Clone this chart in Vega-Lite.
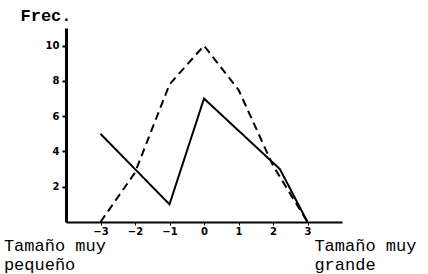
{
  "$schema": "https://vega.github.io/schema/vega-lite/v6.json",
  "width": 276,
  "height": 194,
  "autosize": "none",
  "padding": {"left": 66, "top": 28, "right": 86, "bottom": 52},
  "background": "white",
  "config": {"view": {"stroke": null}},
  "datasets": {
    "series": [
      {"x": -3, "frec": 5, "serie": "A"},
      {"x": -2, "frec": 3, "serie": "A"},
      {"x": -1, "frec": 1, "serie": "A"},
      {"x": 0, "frec": 7, "serie": "A"},
      {"x": 2.2, "frec": 3, "serie": "A"},
      {"x": 3, "frec": 0, "serie": "A"},
      {"x": -3, "frec": 0, "serie": "B"},
      {"x": -2, "frec": 2.8, "serie": "B"},
      {"x": -1, "frec": 7.8, "serie": "B"},
      {"x": 0, "frec": 10, "serie": "B"},
      {"x": 1, "frec": 7.5, "serie": "B"},
      {"x": 2, "frec": 3.2, "serie": "B"},
      {"x": 3, "frec": 0, "serie": "B"}
    ],
    "labels": [
      {"x": -5.8, "y": -1.65, "t": "Tamaño muy"},
      {"x": -5.8, "y": -2.7, "t": "pequeño"},
      {"x": 3.2, "y": -1.65, "t": "Tamaño muy"},
      {"x": 3.2, "y": -2.7, "t": "grande"}
    ]
  },
  "layer": [
    {
      "data": {"name": "series"},
      "mark": {"type": "line", "color": "black", "strokeWidth": 2},
      "encoding": {
        "x": {
          "field": "x", "type": "quantitative",
          "scale": {"domain": [-4, 4], "nice": false},
          "axis": {
            "values": [-3, -2, -1, 0, 1, 2, 3], "format": "d", "title": null, "grid": false,
            "domainColor": "black", "domainWidth": 2, "tickColor": "black", "tickSize": 3,
            "labelFont": "DejaVu Sans", "labelFontWeight": "bold", "labelFontSize": 10,
            "labelColor": "black", "labelPadding": 1
          }
        },
        "y": {
          "field": "frec", "type": "quantitative",
          "scale": {"domain": [0, 11], "nice": false},
          "axis": {
            "values": [2, 4, 6, 8, 10], "title": "Frec.", "grid": false,
            "domainColor": "black", "domainWidth": 3, "tickColor": "black", "tickSize": 4, "tickWidth": 2,
            "labelFont": "DejaVu Sans", "labelFontWeight": "bold", "labelFontSize": 10,
            "labelColor": "black", "labelPadding": 3,
            "titleAngle": 0, "titleX": -46, "titleY": -8, "titleAlign": "left", "titleBaseline": "alphabetic",
            "titleFont": "Liberation Mono", "titleFontSize": 17, "titleFontWeight": "bold", "titleColor": "black"
          }
        },
        "detail": {"field": "serie"},
        "strokeDash": {
          "field": "serie", "type": "nominal",
          "scale": {"domain": ["A", "B"], "range": [[1, 0], [8, 5]]},
          "legend": null
        }
      }
    },
    {
      "data": {"name": "labels"},
      "mark": {"type": "text", "align": "left", "baseline": "alphabetic", "font": "Liberation Mono", "fontSize": 17, "color": "black"},
      "encoding": {
        "x": {"field": "x", "type": "quantitative"},
        "y": {"field": "y", "type": "quantitative"},
        "text": {"field": "t"}
      }
    }
  ]
}
